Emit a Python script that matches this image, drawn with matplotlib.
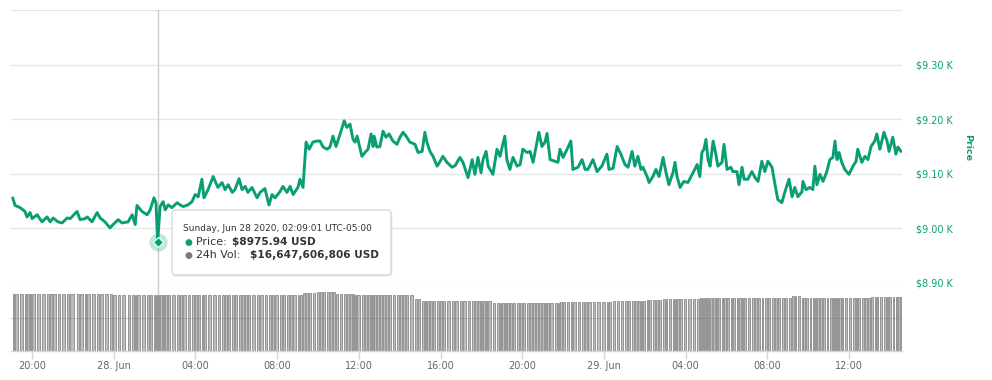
import numpy as np
import matplotlib
matplotlib.use("Agg")
import matplotlib.pyplot as plt
import matplotlib.dates as mdates
from matplotlib.patches import FancyBboxPatch
from datetime import datetime, timedelta

# ---------------- data ----------------
start_time = datetime(2020, 6, 27, 19, 0)   # minutes below are counted from here

price_minutes = [3, 10, 25, 39, 45, 54, 60, 75, 89, 104, 113, 122, 136, 148, 163, 172, 192, 201, 216, 222,
                 236, 251, 260, 274, 289, 298, 313, 324, 342, 354, 363, 368, 383, 398, 407, 418, 424, 429,
                 436, 445, 451, 460, 471, 486, 495, 504, 518, 530, 539, 548, 559, 565, 577, 592, 606, 618,
                 627, 636, 648, 656, 668, 677, 686, 694, 706, 721, 730, 744, 756, 765, 774, 788, 797, 809,
                 818, 827, 841, 847, 856, 865, 874, 885, 897, 906, 915, 927, 935, 944, 953, 965, 977, 985,
                 994, 1003, 1009, 1015, 1029, 1038, 1047, 1056, 1062, 1065, 1073, 1082, 1091, 1100, 1109,
                 1120, 1132, 1141, 1150, 1159, 1170, 1185, 1194, 1206, 1214, 1220, 1229, 1238, 1250, 1259,
                 1267, 1279, 1294, 1303, 1317, 1326, 1341, 1353, 1361, 1370, 1379, 1385, 1394, 1400, 1414,
                 1426, 1435, 1441, 1449, 1455, 1464, 1473, 1485, 1494, 1502, 1514, 1523, 1532, 1541, 1549,
                 1558, 1567, 1573, 1582, 1596, 1605, 1611, 1620, 1632, 1643, 1649, 1664, 1676, 1685, 1693,
                 1708, 1720, 1734, 1749, 1755, 1767, 1779, 1790, 1802, 1811, 1823, 1831, 1840, 1849, 1855,
                 1867, 1873, 1884, 1893, 1902, 1914, 1922, 1931, 1943, 1949, 1955, 1964, 1975, 1987, 2002,
                 2014, 2022, 2028, 2034, 2040, 2046, 2052, 2061, 2069, 2075, 2087, 2093, 2102, 2113, 2119,
                 2131, 2137, 2146, 2152, 2163, 2175, 2184, 2193, 2204, 2213, 2222, 2234, 2243, 2251, 2263,
                 2272, 2284, 2293, 2301, 2310, 2322, 2325, 2334, 2345, 2354, 2360, 2366, 2375, 2384, 2395,
                 2404, 2413, 2419, 2425, 2431, 2439, 2448, 2460, 2472, 2481, 2486, 2498, 2507, 2516, 2525,
                 2536, 2542, 2551, 2563, 2572, 2578, 2589, 2598, 2604, 2613]

price_usd = [9056, 9042, 9038, 9031, 9021, 9029, 9018, 9025, 9012, 9021, 9012, 9019, 9012, 9010, 9019, 9018,
             9031, 9016, 9018, 9021, 9012, 9029, 9019, 9012, 9001, 9007, 9016, 9010, 9012, 9025, 9007, 9042,
             9031, 9025, 9034, 9056, 9047, 8975.94, 9040, 9049, 9034, 9043, 9038, 9047, 9043, 9040, 9043,
             9049, 9062, 9058, 9090, 9056, 9071, 9095, 9075, 9084, 9071, 9080, 9066, 9071, 9091, 9071, 9077,
             9066, 9075, 9056, 9066, 9073, 9043, 9062, 9056, 9067, 9077, 9066, 9077, 9062, 9075, 9090, 9075,
             9158, 9145, 9158, 9160, 9160, 9149, 9145, 9149, 9169, 9150, 9173, 9197, 9185, 9191, 9163, 9158,
             9169, 9132, 9139, 9145, 9173, 9150, 9169, 9149, 9150, 9178, 9167, 9173, 9160, 9154, 9167, 9176,
             9169, 9158, 9154, 9139, 9141, 9176, 9158, 9141, 9132, 9114, 9123, 9132, 9121, 9112, 9115, 9130,
             9121, 9093, 9126, 9099, 9130, 9102, 9126, 9141, 9114, 9099, 9145, 9132, 9149, 9169, 9126, 9108,
             9130, 9114, 9117, 9145, 9139, 9141, 9121, 9150, 9176, 9150, 9158, 9174, 9126, 9123, 9121, 9145,
             9130, 9145, 9160, 9108, 9112, 9126, 9108, 9108, 9126, 9104, 9114, 9136, 9108, 9110, 9150, 9136,
             9117, 9112, 9141, 9114, 9132, 9108, 9112, 9095, 9084, 9095, 9108, 9095, 9130, 9104, 9080, 9102,
             9121, 9095, 9075, 9086, 9084, 9102, 9117, 9095, 9139, 9145, 9163, 9126, 9114, 9160, 9136, 9114,
             9121, 9154, 9108, 9112, 9104, 9104, 9080, 9112, 9090, 9090, 9104, 9093, 9086, 9123, 9104, 9123,
             9112, 9080, 9053, 9047, 9067, 9090, 9058, 9075, 9058, 9067, 9086, 9071, 9075, 9071, 9114, 9080,
             9099, 9086, 9104, 9126, 9130, 9160, 9126, 9139, 9121, 9108, 9099, 9114, 9123, 9145, 9121, 9132,
             9126, 9150, 9160, 9173, 9145, 9176, 9160, 9141, 9167, 9136, 9149, 9141]

# 24h volume (billions USD): level that starts at each break minute
vol_break_minutes = [0, 295, 430, 530, 853, 894, 950, 1009, 1185, 1206, 1405, 1611, 1758, 1861, 1905,
                     2022, 2199, 2287, 2316, 2522]
vol_levels_bn = [17.2, 16.9, 16.65, 16.9, 17.4, 17.6, 17.2, 16.9, 15.7, 15.0, 14.5, 14.6, 15.0, 15.2, 15.5,
                 15.8, 16.0, 16.4, 15.8, 16.1]

price_ticks = [8900, 9000, 9100, 9200, 9300, 9400]
price_tick_labels = ["$8.90 K", "$9.00 K", "$9.10 K", "$9.20 K", "$9.30 K", ""]
axis_title = "Price"

hover_minute = 429
hover_price = 8975.94
tooltip_date = "Sunday, Jun 28 2020, 02:09:01 UTC-05:00"
tooltip_price_label = "Price: "
tooltip_price_value = "$8975.94 USD"
tooltip_vol_label = "24h Vol: "
tooltip_vol_value = "$16,647,606,806 USD"

assert len(price_minutes) == len(price_usd)

# ---------------- styling ----------------
GREEN = "#0a9e74"
GRID = "#e6e6e6"
W, H = 992, 380

def fx(x):
    return x / W

def fy(y):
    return 1 - y / H

plt.rcParams["font.family"] = ["DejaVu Sans"]

fig = plt.figure(figsize=(W / 100, H / 100), dpi=100)
fig.patch.set_facecolor("white")

x_left, x_right = 11, 902
p_top, p_bot = 10, 283
v_top, v_bot = 283, 350.7

ax = fig.add_axes([fx(x_left), fy(p_bot), fx(x_right) - fx(x_left), fy(p_top) - fy(p_bot)])
axv = fig.add_axes([fx(x_left), fy(v_bot), fx(x_right) - fx(x_left), fy(v_top) - fy(v_bot)])

times = [start_time + timedelta(minutes=m) for m in price_minutes]
tnum = mdates.date2num(times)
xmin = mdates.date2num(start_time + timedelta(minutes=-2))
xmax = mdates.date2num(start_time + timedelta(minutes=2616))

# ---- price pane ----
ax.plot(tnum, price_usd, color=GREEN, lw=2.1, solid_joinstyle="round", solid_capstyle="round", zorder=3)
ax.set_xlim(xmin, xmax)
ax.set_ylim(8900, 9400)
ax.set_yticks(price_ticks)
ax.set_yticklabels(price_tick_labels)
ax.yaxis.tick_right()
ax.tick_params(axis="y", length=0, pad=10, labelsize=6.9, labelcolor=GREEN)
ax.tick_params(axis="x", bottom=False, labelbottom=False)
ax.grid(axis="y", color=GRID, lw=1)
ax.set_axisbelow(True)
for s in ax.spines.values():
    s.set_visible(False)
ax.patch.set_alpha(0)

hover_t = mdates.date2num(start_time + timedelta(minutes=hover_minute))
ax.axvline(hover_t, color="#cccccc", lw=1, zorder=2)
ax.plot([hover_t], [hover_price], "o", ms=13, color=GREEN, alpha=0.25, mec="none", zorder=4, clip_on=False)
ax.plot([hover_t], [hover_price], "D", ms=5, color=GREEN, mec="white", mew=0.8, zorder=5, clip_on=False)

fig.text(fx(968), fy(147), axis_title, rotation=270, ha="center", va="center",
         fontsize=6.8, fontweight="bold", color=GREEN)

# ---- volume pane ----
idx = np.searchsorted(vol_break_minutes, price_minutes, side="right") - 1
vols = np.array(vol_levels_bn)[idx]
widths = np.diff(np.append(tnum, xmax))
axv.bar(tnum, vols, width=widths * 0.55, align="edge", color="#bdbdbd",
        edgecolor="#8a8a8a", linewidth=0.6, zorder=2)
axv.set_xlim(xmin, xmax)
axv.set_ylim(0, 20.4)
axv.set_yticks([])
axv.axhline(10, color="#7a7a7a", alpha=0.35, lw=0.8, zorder=3)
axv.axvline(hover_t, color="#cccccc", lw=1, zorder=1)
for k, s in axv.spines.items():
    s.set_visible(k == "bottom")
axv.spines["bottom"].set_color("#ccd6eb")
axv.spines["bottom"].set_linewidth(1)
axv.patch.set_alpha(0)

axv.xaxis.set_major_locator(mdates.HourLocator(byhour=[0, 4, 8, 12, 16, 20]))

def fmt(x, pos):
    d = mdates.num2date(x)
    if d.hour == 0 and d.minute == 0:
        return f"{d.day}. {d.strftime('%b')}"
    return d.strftime("%H:%M")

axv.xaxis.set_major_formatter(plt.FuncFormatter(fmt))
axv.tick_params(axis="x", direction="out", length=5.5, width=1, color="#ccd6eb",
                labelsize=7, labelcolor="#666666", pad=2)

# ---- tooltip ----
bx0, by0, bx1, by1 = 172, 210, 391, 275
shadow = FancyBboxPatch(((bx0 + 1.5) / 100, (H - by1 - 1.5) / 100), (bx1 - bx0) / 100, (by1 - by0) / 100,
                        boxstyle="round,pad=0,rounding_size=0.03", transform=fig.dpi_scale_trans,
                        facecolor="black", alpha=0.08, edgecolor="none", zorder=9)
box = FancyBboxPatch((bx0 / 100, (H - by1) / 100), (bx1 - bx0) / 100, (by1 - by0) / 100,
                     boxstyle="round,pad=0,rounding_size=0.03", transform=fig.dpi_scale_trans,
                     facecolor="white", edgecolor="#cfcfcf", lw=0.8, zorder=10)
fig.add_artist(shadow)
fig.add_artist(box)

fig.text(fx(183), fy(228.5), tooltip_date, fontsize=6.5, color="#333333", va="center", zorder=11)
fig.text(fx(188), fy(242), "\u25CF", fontsize=6.5, color=GREEN, ha="center", va="center", zorder=11)
fig.text(fx(196), fy(242), tooltip_price_label, fontsize=7.9, color="#333333", va="center", zorder=11)
fig.text(fx(232), fy(242), tooltip_price_value, fontsize=7.6, color="#333333", fontweight="bold",
         va="center", zorder=11)
fig.text(fx(188), fy(255.5), "\u25CF", fontsize=6.5, color="#7a7a7a", ha="center", va="center", zorder=11)
fig.text(fx(196), fy(255.5), tooltip_vol_label, fontsize=7.9, color="#333333", va="center", zorder=11)
fig.text(fx(250), fy(255.5), tooltip_vol_value, fontsize=7.6, color="#333333", fontweight="bold",
         va="center", zorder=11)

fig.savefig("out.png", dpi=100)
